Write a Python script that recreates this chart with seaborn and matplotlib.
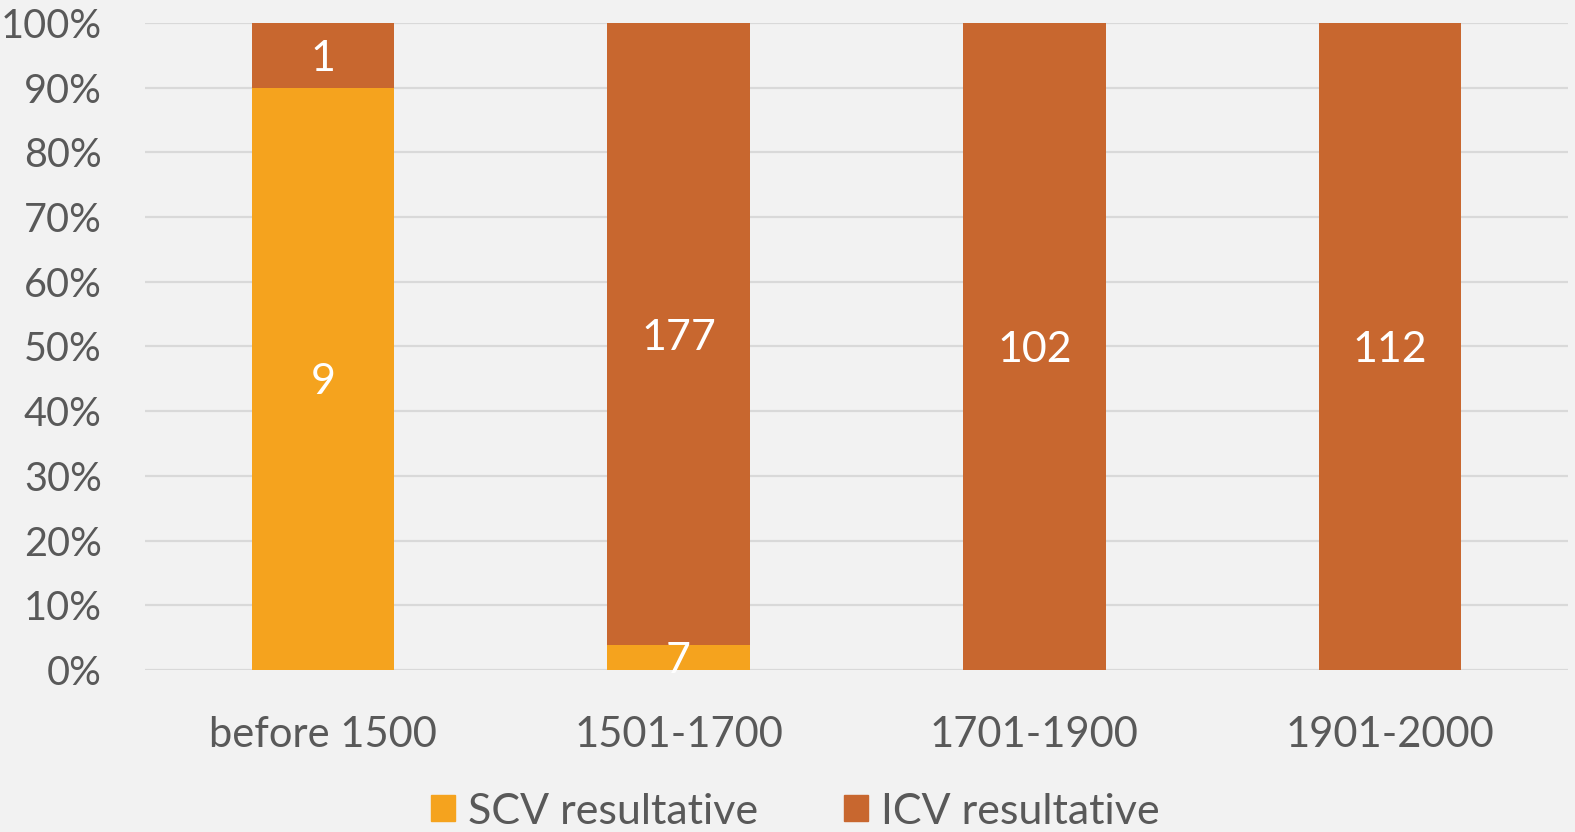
import pandas as pd
import matplotlib.pyplot as plt
import seaborn as sns
from matplotlib.patches import Patch


# data
periods = ["before 1500", "1501-1700", "1701-1900", "1901-2000"]
scv_counts = [9, 7, 0, 0]
icv_counts = [1, 177, 102, 112]

SCV_COLOR = "#F5A31E"
ICV_COLOR = "#C8672F"
TEXT_COLOR = "#595959"

df = pd.DataFrame({"period": periods, "scv": scv_counts, "icv": icv_counts})
df["total"] = df["scv"] + df["icv"]
df["scv_pct"] = df["scv"] / df["total"] * 100
df["all_pct"] = (df["scv"] + df["icv"]) / df["total"] * 100

sns.set_style("white")
plt.rcParams["font.family"] = ["Lato", "DejaVu Sans"]

fig = plt.figure(figsize=(15.75, 8.32), dpi=100, facecolor="#F2F2F2")
ax = fig.add_axes([0.092, 0.1947, 0.9036, 0.7777])
ax.set_facecolor("#F2F2F2")

# full bar in ICV colour, SCV share drawn over it
sns.barplot(data=df, x="period", y="all_pct", order=periods, color=ICV_COLOR,
            saturation=1, width=0.4, linewidth=0, ax=ax, zorder=2)
sns.barplot(data=df, x="period", y="scv_pct", order=periods, color=SCV_COLOR,
            saturation=1, width=0.4, linewidth=0, ax=ax, zorder=3)

# segment labels
for i, row in df.iterrows():
    if row["scv"] > 0:
        ax.text(i, row["scv_pct"] / 2, str(row["scv"]), ha="center",
                va="center_baseline", color="white", fontsize=31, zorder=4)
    if row["icv"] > 0:
        ax.text(i, (row["scv_pct"] + row["all_pct"]) / 2, str(row["icv"]),
                ha="center", va="center_baseline", color="white", fontsize=31,
                zorder=4)

ax.set_xlim(-0.5, 3.5)
ax.set_ylim(0, 100)
ax.set_yticks(range(0, 101, 10))
ax.set_yticklabels([f"{v}%" for v in range(0, 101, 10)])
ax.yaxis.grid(True, color="#D9D9D9", linewidth=1.6, zorder=0)
ax.set_axisbelow(True)
for s in ax.spines.values():
    s.set_visible(False)
ax.tick_params(axis="both", length=0, labelsize=30, labelcolor=TEXT_COLOR)
ax.tick_params(axis="y", labelsize=28.5, pad=31)
ax.tick_params(axis="x", pad=33)
ax.set_xlabel("")
ax.set_ylabel("")

handles = [Patch(color=SCV_COLOR, label="SCV resultative"),
           Patch(color=ICV_COLOR, label="ICV resultative")]
fig.legend(handles=handles, loc="lower center", bbox_to_anchor=(0.505, -0.045),
           ncol=2, frameon=False, fontsize=31, labelcolor=TEXT_COLOR,
           handlelength=0.55, handleheight=0.55, handletextpad=0.3,
           columnspacing=2.0)

fig.savefig("out.png", dpi=100, facecolor=fig.get_facecolor())
